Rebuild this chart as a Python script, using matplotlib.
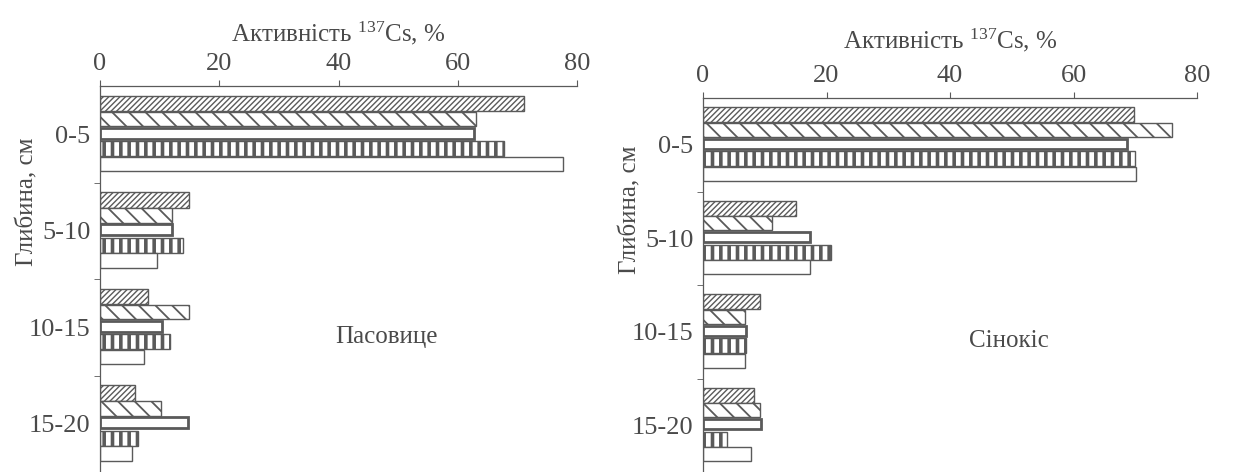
import numpy as np
import matplotlib
matplotlib.use('Agg')
import matplotlib.pyplot as plt

plt.rcParams['font.family'] = ['Liberation Serif', 'DejaVu Serif']
plt.rcParams['mathtext.fontset'] = 'custom'
plt.rcParams['mathtext.rm'] = 'Liberation Serif'
plt.rcParams['mathtext.default'] = 'regular'
plt.rcParams['hatch.linewidth'] = 1.2

# Depth layers and measured activity shares (%), five series per layer
depths = ['0-5', '5-10', '10-15', '15-20']

pasture_1 = [71.1, 15.0, 8.1, 5.9]
pasture_2 = [63.0, 12.1, 15.0, 10.3]
pasture_3 = [62.7, 12.1, 10.4, 14.8]
pasture_4 = [67.7, 13.9, 11.8, 6.4]
pasture_5 = [77.6, 9.6, 7.4, 5.4]

hayfield_1 = [69.8, 15.0, 9.3, 8.2]
hayfield_2 = [75.9, 11.1, 6.8, 9.2]
hayfield_3 = [68.6, 17.4, 6.9, 9.4]
hayfield_4 = [70.0, 20.8, 6.9, 3.9]
hayfield_5 = [70.2, 17.4, 6.8, 7.7]

xticks = [0, 20, 40, 60, 80]
xlabel = 'Активність $^{137}$Cs, %'
ylabel = 'Глибина, см'

text_col = '#4a4a4a'
edge_col = '#5a5a5a'

offsets = [-0.32, -0.16, -0.01, 0.15, 0.31]
heights = [0.16, 0.15, 0.11, 0.16, 0.15]
hatches = ['//////', '\\\\', '', '||', '']
hatch_lw = [1.0, 1.3, 1.0, 2.6, 1.0]
lws = [1.0, 1.0, 2.0, 1.0, 1.0]

fig = plt.figure(figsize=(12.41, 4.72), dpi=100)


def panel(rect, series, name, name_x, lab_x, lab_y, xpad):
    ax = fig.add_axes(rect)
    y = np.arange(len(depths))
    for i, vals in enumerate(series):
        with plt.rc_context({'hatch.linewidth': hatch_lw[i]}):
            ax.barh(y + offsets[i], vals, height=heights[i], color='white',
                    edgecolor=edge_col, hatch=hatches[i], linewidth=lws[i])
    ax.set_xlim(0, 80)
    ax.set_ylim(3.5, -0.5)
    ax.xaxis.tick_top()
    ax.xaxis.set_label_position('top')
    ax.set_xticks(xticks)
    ax.set_xticklabels([str(v) for v in xticks])
    ax.set_yticks(y)
    ax.set_yticklabels(depths)
    ax.set_yticks([0.5, 1.5, 2.5], minor=True)
    ax.tick_params(axis='y', which='major', length=0, pad=7,
                   labelsize=19, labelcolor=text_col)
    ax.tick_params(axis='y', which='minor', length=4, color=edge_col)
    ax.tick_params(axis='x', length=4, color=edge_col, pad=4,
                   labelsize=19, labelcolor=text_col)
    for s in ['right', 'bottom']:
        ax.spines[s].set_visible(False)
    for s in ['left', 'top']:
        ax.spines[s].set_color(edge_col)
        ax.spines[s].set_linewidth(0.9)
    ax.set_xlabel(xlabel, fontsize=18, color=text_col, labelpad=xpad)
    ax.set_ylabel(ylabel, fontsize=18, color=text_col)
    ax.yaxis.set_label_coords(lab_x, lab_y)
    ax.text(name_x, 2.1, name, fontsize=18, color=text_col, ha='center',
            va='center')
    return ax


panel([100 / 1241, 0.0, 477 / 1241, 386 / 472],
      [pasture_1, pasture_2, pasture_3, pasture_4, pasture_5],
      'Пасовице', 48, -0.13, 0.7, 8)
panel([703 / 1241, 0.0, 494 / 1241, 374 / 472],
      [hayfield_1, hayfield_2, hayfield_3, hayfield_4, hayfield_5],
      'Сінокіс', 49.5, -0.125, 0.7, 12)

fig.savefig('out.png', dpi=100)
